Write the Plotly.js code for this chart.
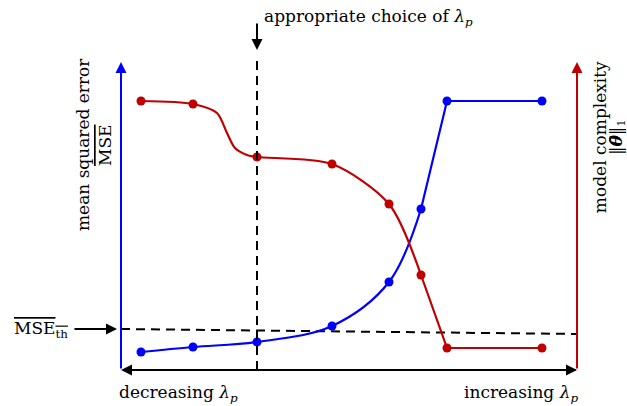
<!DOCTYPE html>
<html><head><meta charset="utf-8">
<script src="https://cdn.plot.ly/plotly-3.0.1.min.js"></script>
<style>html,body{margin:0;padding:0;background:#fff;}</style>
</head><body><div id="chart" style="width:627px;height:406px;"></div>
<script>
// lambda positions (abstract units along the lambda_p axis)
const lambdaX = [20, 72, 136, 211, 268, 300, 326, 421];
// mean squared error (blue)
const mseY = [18, 23, 28, 44, 88, 161, 269, 269];
// model complexity (red)
const complexityY = [269, 266, 213, 206, 166, 95, 22, 22];
// extra points read along the drawn red S-bend
const complexityCurveX = [20, 72, 96, 106, 114, 126, 136, 211, 268, 300];
const complexityCurveY = [269, 266, 257, 237, 222, 215, 213, 206, 166, 95];
// threshold line
const thresholdX = [0, 456];
const thresholdY = [41, 36];
// appropriate choice of lambda
const choiceX = [136];

const BLUE = '#0000ff', RED = '#c00000';
const FONT = {family: 'DejaVu Serif', size: 17, color: '#000'};

const nSmooth = 6;
const traces = [
  {x: thresholdX, y: thresholdY, mode: 'lines', line: {color: '#000', width: 2, dash: '9px,6px'}, hoverinfo: 'skip'},
  {x: lambdaX.slice(0, nSmooth), y: mseY.slice(0, nSmooth), mode: 'lines', line: {color: BLUE, width: 2.2, shape: 'spline', smoothing: 1}},
  {x: lambdaX.slice(nSmooth - 1), y: mseY.slice(nSmooth - 1), mode: 'lines', line: {color: BLUE, width: 2.2}},
  {x: complexityCurveX, y: complexityCurveY, mode: 'lines', line: {color: RED, width: 2.2, shape: 'spline', smoothing: 0.8}},
  {x: lambdaX.slice(nSmooth - 1), y: complexityY.slice(nSmooth - 1), mode: 'lines', line: {color: RED, width: 2.2}},
  {x: lambdaX, y: mseY, mode: 'markers', marker: {color: BLUE, size: 9}, cliponaxis: false},
  {x: lambdaX, y: complexityY, mode: 'markers', marker: {color: RED, size: 9}, cliponaxis: false}
];

const ax = {range: [0, 456], showgrid: false, zeroline: false, showticklabels: false, showline: false, ticks: ''};
const ay = {range: [0, 308], showgrid: false, zeroline: false, showticklabels: false, showline: false, ticks: ''};

function arrow(x, y, axp, ayp, color) {
  return {xref: 'paper', yref: 'paper', x: x, y: y, ax: axp, ay: ayp, axref: 'pixel', ayref: 'pixel',
    text: '', showarrow: true, arrowhead: 2, arrowsize: 1.1, arrowwidth: 2, arrowcolor: color, standoff: 0};
}
function label(x, y, text, opts) {
  return Object.assign({xref: 'paper', yref: 'paper', x: x, y: y, text: text, showarrow: false, font: FONT,
    xanchor: 'center', yanchor: 'middle'}, opts || {});
}
const lam = '<i>λ</i><sub><i>p</i></sub>';
const OV = '<span style="text-decoration:overline">';
const annotations = [
  arrow(0, 0, 456, 0, '#000'),
  arrow(1, 0, -40, 0, '#000'),
  arrow(0, 1, 0, 308, BLUE),
  arrow(1, 1, 0, 308, RED),
  arrow(-0.0088, 0.133, -44, 0, '#000'),
  {xref: 'x', yref: 'paper', x: choiceX[0], y: 1.039, ax: 0, ay: -28, axref: 'pixel', ayref: 'pixel',
    text: '', showarrow: true, arrowhead: 2, arrowsize: 1.1, arrowwidth: 2, arrowcolor: '#000', standoff: 0},
  label(0.309, 1.146, 'appropriate choice of ' + lam, {xanchor: 'left'}),
  label(0.125, -0.075, 'decreasing ' + lam),
  label(0.877, -0.075, 'increasing ' + lam),
  label(-0.175, 0.133, OV + 'MSE<sub>th</sub></span>'),
  label(-0.0833, 0.7305, 'mean squared error', {textangle: -90}),
  label(-0.0351, 0.7305, OV + 'MSE</span>', {textangle: -90}),
  label(1.0504, 0.756, 'model complexity', {textangle: -90}),
  label(1.0875, 0.756, '‖<b><i>θ\u0304</i></b>‖<sub>1</sub>', {textangle: -90})
];

const shapes = [
  {type: 'line', xref: 'x', yref: 'paper', x0: choiceX[0], x1: choiceX[0], y0: 0, y1: 1.023, layer: 'above',
    line: {color: '#000', width: 2, dash: '9px,6px'}}
];

const layout = {
  width: 627, height: 406,
  margin: {l: 121, r: 50, t: 62, b: 36, pad: 0},
  paper_bgcolor: '#fff', plot_bgcolor: '#fff',
  showlegend: false,
  xaxis: ax, yaxis: ay,
  annotations: annotations, shapes: shapes,
  font: FONT
};
Plotly.newPlot('chart', traces, layout, {displayModeBar: false, staticPlot: true});
</script>
</body></html>
